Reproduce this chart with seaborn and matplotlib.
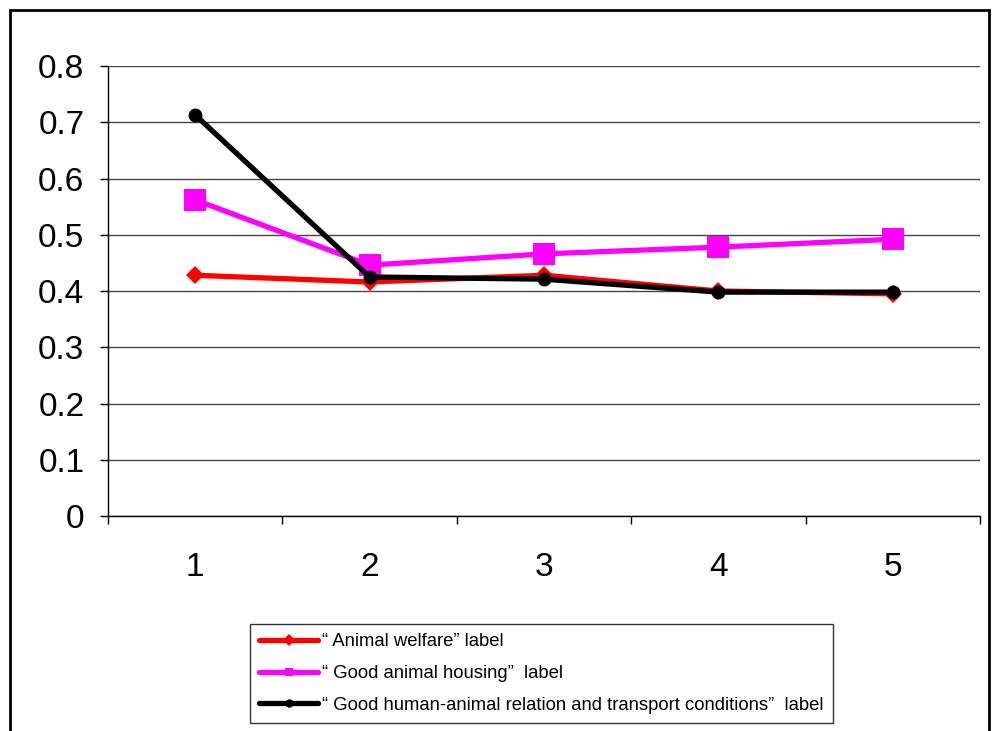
import pandas as pd
import matplotlib.pyplot as plt
from matplotlib.patches import Rectangle
from matplotlib.lines import Line2D
import seaborn as sns

# valores
categorias = [1, 2, 3, 4, 5]
bem_estar = [0.428, 0.416, 0.428, 0.400, 0.395]
alojamento = [0.562, 0.446, 0.466, 0.478, 0.492]
relacao_transporte = [0.713, 0.425, 0.421, 0.398, 0.398]

nomes = ['\u201c Animal welfare\u201d label',
         '\u201c Good animal housing\u201d  label',
         '\u201c Good human-animal relation and transport conditions\u201d  label']

df = pd.DataFrame({'x': categorias * 3,
                   'valor': bem_estar + alojamento + relacao_transporte,
                   'serie': [nomes[0]] * 5 + [nomes[1]] * 5 + [nomes[2]] * 5})

sns.set_style("white")
plt.rcParams['font.family'] = ['Liberation Sans', 'DejaVu Sans']
plt.rcParams['text.color'] = 'black'
plt.rcParams['xtick.color'] = 'black'
plt.rcParams['ytick.color'] = 'black'

fig = plt.figure(figsize=(9.92, 7.31), dpi=100)
ax = fig.add_axes([108 / 992, 1 - 516 / 731, (980 - 108) / 992, (516 - 66) / 731])

cores = {nomes[0]: '#ff0000', nomes[1]: '#ff00ff', nomes[2]: '#000000'}
marcadores = {nomes[0]: 'D', nomes[1]: 's', nomes[2]: 'o'}
tamanhos = {nomes[0]: 9.5, nomes[1]: 16, nomes[2]: 10}

for nome in nomes:
    sub = df[df['serie'] == nome]
    sns.lineplot(data=sub, x='x', y='valor', ax=ax, color=cores[nome],
                 marker=marcadores[nome], markersize=tamanhos[nome],
                 markeredgewidth=0, linewidth=3.8, legend=False)

ax.set_xlim(0.5, 5.5)
ax.set_ylim(0, 0.8)
ax.set_yticks([i / 10 for i in range(9)])
ax.set_yticklabels(['0'] + [f'0.{i}' for i in range(1, 9)], fontsize=24)
ax.set_xticks(categorias)
ax.set_xticklabels([str(c) for c in categorias], fontsize=24)
ax.set_xticks([0.5, 1.5, 2.5, 3.5, 4.5, 5.5], minor=True)
ax.tick_params(axis='x', which='major', length=0, pad=26)
ax.tick_params(axis='x', which='minor', length=6, width=1, color='black', direction='out', bottom=True)
ax.tick_params(axis='y', length=6, width=1, color='black', direction='out', left=True, pad=11)
ax.grid(axis='y', color='#444444', linewidth=1)
ax.set_xlabel('')
ax.set_ylabel('')
for lado in ['top', 'right']:
    ax.spines[lado].set_visible(False)
for lado in ['left', 'bottom']:
    ax.spines[lado].set_color('black')
    ax.spines[lado].set_linewidth(1)

handles = [Line2D([], [], color=cores[n], marker=marcadores[n], markersize=6,
                  markeredgewidth=0, linewidth=3.8) for n in nomes]
leg = ax.legend(handles, nomes, loc='upper left',
                bbox_to_anchor=(250 / 992, 1 - 624 / 731), bbox_transform=fig.transFigure,
                frameon=True, fancybox=False, fontsize=13.3, handlelength=3.2,
                handletextpad=0.2, labelspacing=0.8, borderpad=0.5, borderaxespad=0)
leg.get_frame().set_edgecolor('black')
leg.get_frame().set_linewidth(1)

# moldura externa
fig.patches.append(Rectangle((10 / 992, -0.05), (989 - 10) / 992, 1.05 - 10 / 731,
                             transform=fig.transFigure, fill=False,
                             edgecolor='black', linewidth=2))

fig.savefig('out.png', dpi=100)
